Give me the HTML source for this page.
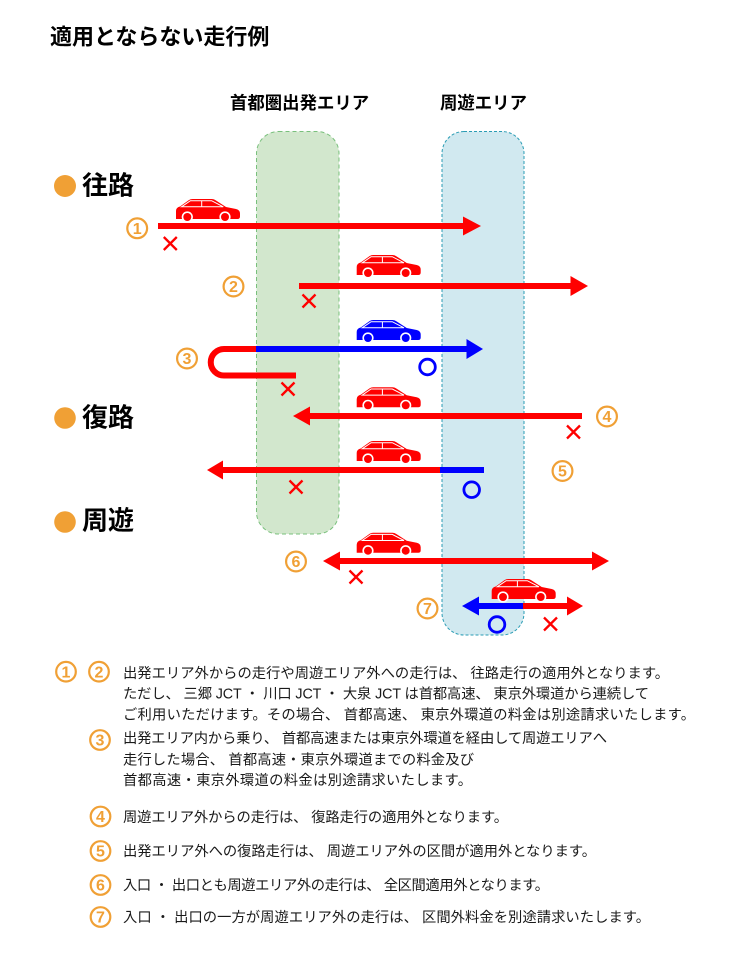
<!DOCTYPE html>
<html lang="ja">
<head>
<meta charset="utf-8">
<title>適用とならない走行例</title>
<style>
  html, body { margin: 0; padding: 0; background: #ffffff; }
  svg { display: block; }
  .jp { font-family: "Liberation Sans", "Noto Sans CJK JP", sans-serif; }
  .b { font-weight: bold; }
  .body { font-size: 14.3px; fill: #1a1a1a; }
  .num { font-family: "Liberation Sans", sans-serif; font-weight: bold; font-size: 16px; fill: #f0a035; }
</style>
</head>
<body>
<svg width="740" height="966" viewBox="0 0 740 966" xmlns="http://www.w3.org/2000/svg">
  <defs>
    <g id="car">
      <path d="M0,20 L0,12 Q0,8.5 4,7.5 L13,1 Q14.5,0 16.5,0 L36,0 Q38,0 40,1.5 L50,8 L60,10 Q64,11 64,14.5 L64,17.5 Q64,20 61.5,20 Z"/>
      <path d="M5.5,7.8 L14.4,1.7 L35.6,1.7 L47.3,7.8 Z M25.7,1.7 L25.7,7.8" fill="none" stroke="#ffffff" stroke-width="1"/>
      <circle cx="11.3" cy="18" r="5.6" fill="#ffffff"/>
      <circle cx="49" cy="18" r="5.6" fill="#ffffff"/>
      <circle cx="11.3" cy="18" r="4"/>
      <circle cx="49" cy="18" r="4"/>
    </g>
  </defs>

  <!-- Title -->
  <text class="jp b" x="50" y="44.5" font-size="22" fill="#000">適用とならない走行例</text>

  <!-- Area labels -->
  <text class="jp b" x="230" y="109" font-size="17.4" fill="#000">首都圏出発エリア</text>
  <text class="jp b" x="440" y="109" font-size="17.4" fill="#000">周遊エリア</text>

  <!-- Areas -->
  <rect x="256.5" y="131.5" width="82.5" height="402.5" rx="22" ry="22" fill="#d2e7cd" stroke="#79c07c" stroke-width="1" stroke-dasharray="4 3"/>
  <rect x="442" y="131.5" width="82" height="503.5" rx="22" ry="22" fill="#d1e9f0" stroke="#2a9cb4" stroke-width="1" stroke-dasharray="3 2"/>

  <!-- Section bullets -->
  <circle cx="65" cy="186" r="11" fill="#f0a035"/>
  <text class="jp b" x="82" y="194.5" font-size="26" fill="#000">往路</text>
  <circle cx="65" cy="418" r="10.8" fill="#f0a035"/>
  <text class="jp b" x="82" y="426.5" font-size="26" fill="#000">復路</text>
  <circle cx="65" cy="522" r="10.8" fill="#f0a035"/>
  <text class="jp b" x="82" y="529.5" font-size="26" fill="#000">周遊</text>

  <!-- Arrow 1 -->
  <rect x="158" y="223" width="307" height="6" fill="#ff0000"/>
  <polygon points="463,216.5 481,226 463,235.5" fill="#ff0000"/>
  <!-- Arrow 2 -->
  <rect x="299" y="283" width="273" height="6" fill="#ff0000"/>
  <polygon points="570.5,276 588,286 570.5,296" fill="#ff0000"/>
  <!-- Arrow 3 -->
  <path d="M257,349 L224,349 A13.25 13.25 0 0 0 224,375.5 L296,375.5" fill="none" stroke="#ff0000" stroke-width="6"/>
  <rect x="256" y="346" width="212" height="6" fill="#0000ff"/>
  <polygon points="466.5,339 483,349 466.5,359" fill="#0000ff"/>
  <!-- Arrow 4 -->
  <rect x="308" y="413" width="274" height="6" fill="#ff0000"/>
  <polygon points="310,406.5 293,416 310,425.5" fill="#ff0000"/>
  <!-- Arrow 5 -->
  <rect x="221" y="467" width="219.5" height="6" fill="#ff0000"/>
  <rect x="440" y="467" width="44" height="6" fill="#0000ff"/>
  <polygon points="223,460.5 207,470 223,479.5" fill="#ff0000"/>
  <!-- Arrow 6 -->
  <rect x="338" y="558" width="256" height="6" fill="#ff0000"/>
  <polygon points="340,551.5 323,561 340,570.5" fill="#ff0000"/>
  <polygon points="592,551.5 609,561 592,570.5" fill="#ff0000"/>
  <!-- Arrow 7 -->
  <rect x="477" y="603" width="46.5" height="6" fill="#0000ff"/>
  <rect x="523" y="603" width="46" height="6" fill="#ff0000"/>
  <polygon points="479,596.5 462,606 479,615.5" fill="#0000ff"/>
  <polygon points="567,596.5 583,606 567,615.5" fill="#ff0000"/>

  <!-- Cars -->
  <use href="#car" x="176" y="199" fill="#ff0000"/>
  <use href="#car" x="356.7" y="255" fill="#ff0000"/>
  <use href="#car" x="356.7" y="320" fill="#0000ff"/>
  <use href="#car" x="356.7" y="387.3" fill="#ff0000"/>
  <use href="#car" x="356.7" y="441" fill="#ff0000"/>
  <use href="#car" x="356.7" y="532.7" fill="#ff0000"/>
  <use href="#car" x="491.7" y="579" fill="#ff0000"/>

  <!-- X marks -->
  <g stroke="#ff0000" stroke-width="2.3" fill="none">
    <path d="M163.8,237 L176.8,250 M176.8,237 L163.8,250"/>
    <path d="M302.5,294.5 L315.5,307.5 M315.5,294.5 L302.5,307.5"/>
    <path d="M281.5,382.5 L294.5,395.5 M294.5,382.5 L281.5,395.5"/>
    <path d="M567,425.5 L580,438.5 M580,425.5 L567,438.5"/>
    <path d="M289.5,480.5 L302.5,493.5 M302.5,480.5 L289.5,493.5"/>
    <path d="M349.5,570.5 L362.5,583.5 M362.5,570.5 L349.5,583.5"/>
    <path d="M544,617.5 L557,630.5 M557,617.5 L544,630.5"/>
  </g>

  <!-- O marks -->
  <g stroke="#0000ff" stroke-width="2.8" fill="none">
    <circle cx="427.5" cy="367" r="7.8"/>
    <circle cx="471.7" cy="489.7" r="7.8"/>
    <circle cx="497" cy="624.5" r="7.8"/>
  </g>

  <!-- Circled numbers in diagram -->
  <g stroke="#f0a035" stroke-width="2.2" fill="#ffffff">
    <circle cx="137.2" cy="228.3" r="9.9"/>
    <circle cx="233.5" cy="286.5" r="9.9"/>
    <circle cx="187" cy="358.5" r="9.9"/>
    <circle cx="607" cy="416.5" r="9.9"/>
    <circle cx="562.5" cy="471" r="9.9"/>
    <circle cx="296" cy="561.5" r="9.9"/>
    <circle cx="427.5" cy="608.5" r="9.9"/>
  </g>
  <g class="num" text-anchor="middle">
    <text x="137.2" y="234">1</text>
    <text x="233.5" y="292.2">2</text>
    <text x="187" y="364.2">3</text>
    <text x="607" y="422.2">4</text>
    <text x="562.5" y="476.7">5</text>
    <text x="296" y="567.2">6</text>
    <text x="427.5" y="614.2">7</text>
  </g>

  <!-- Circled numbers in list -->
  <g stroke="#f0a035" stroke-width="2.2" fill="#ffffff">
    <circle cx="66" cy="671.7" r="9.8"/>
    <circle cx="99" cy="671.7" r="9.8"/>
    <circle cx="100" cy="740" r="9.8"/>
    <circle cx="100.5" cy="816.5" r="9.8"/>
    <circle cx="100.5" cy="851" r="9.8"/>
    <circle cx="100.5" cy="885" r="9.8"/>
    <circle cx="100.5" cy="917" r="9.8"/>
  </g>
  <g class="num" text-anchor="middle">
    <text x="66" y="677.4">1</text>
    <text x="99" y="677.4">2</text>
    <text x="100" y="745.7">3</text>
    <text x="100.5" y="822.2">4</text>
    <text x="100.5" y="856.7">5</text>
    <text x="100.5" y="890.7">6</text>
    <text x="100.5" y="922.7">7</text>
  </g>

  <!-- List text -->
  <g class="jp body">
    <text x="123" y="678" textLength="546" lengthAdjust="spacing">出発エリア外からの走行や周遊エリア外への走行は、 往路走行の適用外となります。</text>
    <text x="123" y="698.5" textLength="526" lengthAdjust="spacing">ただし、 三郷 JCT ・ 川口 JCT ・ 大泉 JCT は首都高速、 東京外環道から連続して</text>
    <text x="123" y="719.5" textLength="572" lengthAdjust="spacing">ご利用いただけます。その場合、 首都高速、 東京外環道の料金は別途請求いたします。</text>

    <text x="123" y="743" textLength="484" lengthAdjust="spacing">出発エリア内から乗り、 首都高速または東京外環道を経由して周遊エリアへ</text>
    <text x="123" y="764.5" textLength="351" lengthAdjust="spacing">走行した場合、 首都高速・東京外環道までの料金及び</text>
    <text x="123" y="785" textLength="349" lengthAdjust="spacing">首都高速・東京外環道の料金は別途請求いたします。</text>

    <text x="123" y="821.8" textLength="385" lengthAdjust="spacing">周遊エリア外からの走行は、 復路走行の適用外となります。</text>
    <text x="123" y="856" textLength="473" lengthAdjust="spacing">出発エリア外への復路走行は、 周遊エリア外の区間が適用外となります。</text>
    <text x="123" y="890.2" textLength="426" lengthAdjust="spacing">入口 ・ 出口とも周遊エリア外の走行は、 全区間適用外となります。</text>
    <text x="123" y="921.8" textLength="527" lengthAdjust="spacing">入口 ・ 出口の一方が周遊エリア外の走行は、 区間外料金を別途請求いたします。</text>
  </g>
</svg>
</body>
</html>
